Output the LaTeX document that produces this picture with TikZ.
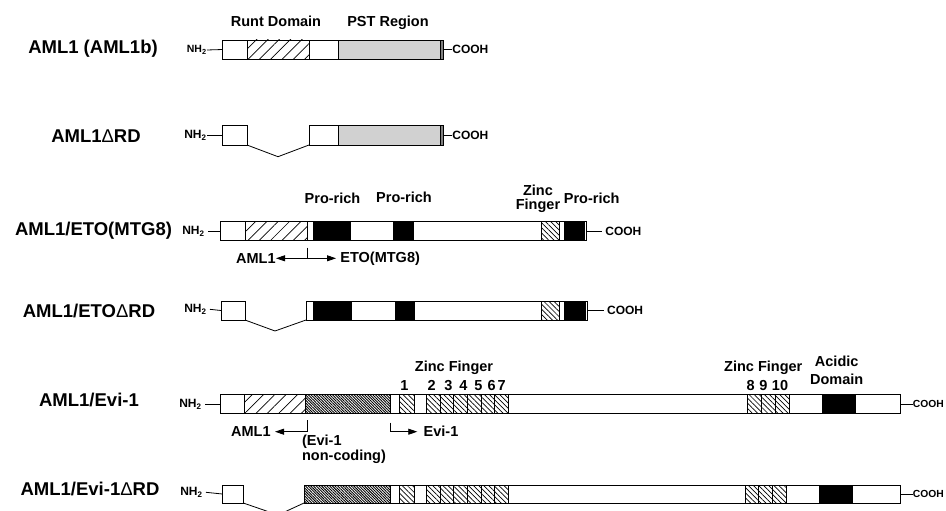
\documentclass[tikz,border=0pt]{standalone}
\usepackage{fontspec}
\setmainfont{Liberation Sans}
\usetikzlibrary{patterns.meta,arrows.meta}
\newcommand\rtop{0}
\newcommand\rbot{0}
\newcommand\bx[3]{\draw[#1] (#2,\rtop) rectangle (#3,\rbot);}
\begin{document}
\begin{tikzpicture}[x=1pt,y=-1pt,line width=0.8pt,
  rowlab/.style={font=\fontsize{18.5}{20}\selectfont\bfseries,inner sep=0},
  lab/.style={font=\fontsize{14.5}{16}\selectfont\bfseries,inner sep=0,anchor=base},
  term/.style={font=\fontsize{12}{13}\selectfont\bfseries,inner sep=0},
  termsm/.style={font=\fontsize{10.3}{11}\selectfont\bfseries,inner sep=0},
  plain/.style={draw,fill=white},
  runt/.style={draw,pattern={Lines[angle=45,distance=8pt,line width=0.7pt]}},
  zinc/.style={draw,pattern={Lines[angle=-45,distance=3.6pt,line width=0.7pt]}},
  dark/.style={draw,pattern={Lines[angle=-45,distance=1.9pt,line width=0.9pt]}},
  pst/.style={draw,fill=black!18},
  strip/.style={draw,fill=black!50},
  blk/.style={draw,fill=black},
  tip/.style={-{Triangle[length=9pt,width=6pt]}},
]
\useasboundingbox (0,0) rectangle (946,511);

% ---------- Row 1 : AML1 (AML1b)
\renewcommand\rtop{40}\renewcommand\rbot{59}
\node[rowlab] (l1) at (93,49) {AML1 (AML1b)};
\node[term,font=\fontsize{10.5}{11}\selectfont\bfseries,anchor=east] (nh1) at (207,50) {NH\textsubscript{2}};
\coordinate (w1) at (222.7,49.5);
\coordinate (e1) at (443,49.5);
\draw (nh1.east) -- (w1);
\bx{plain}{222.7}{247}
\bx{runt}{247}{309}
\bx{plain}{309}{338}
\bx{pst}{338}{440.7}
\bx{strip}{440.7}{443}
\node[term,anchor=west] (c1) at (452,49.5) {COOH};
\draw (e1) -- (c1.west);
\node[lab] (rd) at (276,26.7) {Runt Domain};
\node[lab] (pst) at (388,26.7) {PST Region};

% ---------- Row 2 : AML1 dRD
\renewcommand\rtop{125.7}\renewcommand\rbot{145}
\node[rowlab] (l2) at (96,136) {AML1{\mdseries Δ}RD};
\node[term,anchor=east] (nh2) at (207,135.3) {NH\textsubscript{2}};
\coordinate (w2) at (222.7,135.3);
\coordinate (e2) at (443,135.3);
\draw (nh2.east) -- (w2);
\bx{plain}{222.7}{247}
\draw (247,145) -- (278,156.7) -- (309,145);
\bx{plain}{309}{338}
\bx{pst}{338}{440.7}
\bx{strip}{440.7}{443}
\node[term,anchor=west] (c2) at (452,135.3) {COOH};
\draw (e2) -- (c2.west);

% ---------- Row 3 : AML1/ETO(MTG8)
\renewcommand\rtop{221.7}\renewcommand\rbot{240.3}
\node[rowlab] (l3) at (93.5,231) {AML1/ETO(MTG8)};
\node[term,anchor=east] (nh3) at (205,231) {NH\textsubscript{2}};
\coordinate (w3) at (220.7,231);
\coordinate (e3) at (586.7,231);
\draw[shorten <=3pt] (nh3.east) -- (w3);
\bx{plain}{220.7}{245}
\bx{runt}{245}{307.7}
\bx{plain}{307.7}{313.3}
\bx{blk}{313.3}{350.7}
\bx{plain}{350.7}{393.3}
\bx{blk}{393.3}{413.3}
\bx{plain}{413.3}{541.7}
\bx{zinc}{541.7}{559.3}
\bx{plain}{559.3}{564}
\bx{blk}{564}{584}
\bx{plain}{584}{586.7}
\node[term,anchor=west] (c3) at (605,231) {COOH};
\draw[shorten >=3pt] (e3) -- (c3.west);
\node[lab] (pr1) at (332.5,203.3) {Pro-rich};
\node[lab] (pr2) at (404,202) {Pro-rich};
\node[lab] (zf1) at (538,195) {Zinc};
\node[lab] (zf2) at (538,209.3) {Finger};
\node[lab] (pr3) at (591.7,203) {Pro-rich};
\coordinate (t3a) at (307.3,247.7);
\coordinate (t3b) at (307.3,258.3);
\node[lab,anchor=east] (a3) at (276,258.3) {AML1};
\node[lab,anchor=west] (eto) at (340,258.3) {ETO(MTG8)};
\draw (t3a) -- (t3b);
\draw[tip] (t3b) -- (a3.east);
\draw[tip,shorten >=4pt] (t3b) -- (eto.west);

% ---------- Row 4 : AML1/ETO dRD
\renewcommand\rtop{301}\renewcommand\rbot{320}
\node[rowlab] (l4) at (89,310.7) {AML1/ETO{\mdseries Δ}RD};
\node[term,anchor=east] (nh4) at (207,309) {NH\textsubscript{2}};
\coordinate (w4) at (221,310.5);
\coordinate (e4) at (587,310.5);
\draw[shorten <=3pt] (nh4.east) -- (w4);
\bx{plain}{221}{245}
\draw (245,320) -- (275,331) -- (306,320);
\bx{plain}{306}{313.3}
\bx{blk}{313.3}{351.7}
\bx{plain}{351.7}{395}
\bx{blk}{395}{414.3}
\bx{plain}{414.3}{541.7}
\bx{zinc}{541.7}{559}
\bx{plain}{559}{564}
\bx{blk}{564}{585}
\bx{plain}{585}{587}
\node[term,anchor=west] (c4) at (606.7,310.5) {COOH};
\draw[shorten >=3pt] (e4) -- (c4.west);

% ---------- Row 5 : AML1/Evi-1
\renewcommand\rtop{394.5}\renewcommand\rbot{413.8}
\node[rowlab] (l5) at (89,399.5) {AML1/Evi-1};
\node[term,anchor=east] (nh5) at (202,404) {NH\textsubscript{2}};
\coordinate (w5) at (220,404);
\coordinate (e5) at (900,404);
\draw[shorten <=3pt] (nh5.east) -- (w5);
\bx{plain}{220}{244.3}
\bx{runt}{244.3}{305}
\bx{dark}{305}{390.7}
\bx{plain}{390.7}{399.3}
\bx{zinc}{399.3}{414.3}
\bx{plain}{414.3}{426}
\foreach \a/\b in {426/440,440/453.5,453.5/467,467/481,481/494.7,494.7/508.3}{\bx{zinc}{\a}{\b}}
\bx{plain}{508.3}{747.3}
\foreach \a/\b in {747.3/761.7,761.7/775,775/789.3}{\bx{zinc}{\a}{\b}}
\bx{plain}{789.3}{822.7}
\bx{blk}{822.7}{855}
\bx{plain}{855}{900}
\node[termsm,anchor=west] (c5) at (912.5,404) {COOH};
\draw (e5) -- (c5.west);
\node[lab] (zfa) at (454,371.7) {Zinc Finger};
\foreach \n/\x in {1/404.3,2/431.7,3/448.3,4/463.3,5/478.3,6/491.7,7/501.7}{\node[lab] (k\n) at (\x,390.7) {\n};}
\node[lab] (zfb) at (763.3,371.7) {Zinc Finger};
\foreach \n/\x in {8/750.7,9/763.3,10/780}{\node[lab] (k\n) at (\x,390.7) {\n};}
\node[lab] (ac1) at (836.7,366.7) {Acidic};
\node[lab] (ac2) at (836.7,384) {Domain};
\coordinate (t5a) at (307.3,420);
\coordinate (t5b) at (307.3,431.7);
\node[lab,anchor=east] (a5) at (271,431.7) {AML1};
\draw[tip,shorten >=4pt] (t5a) -- (t5b) -- (a5.east);
\coordinate (t5c) at (390,422.7);
\coordinate (t5d) at (390,431.7);
\node[lab,anchor=west] (ev) at (423.3,431.7) {Evi-1};
\draw[tip,shorten >=6pt] (t5c) -- (t5d) -- (ev.west);
\node[lab,anchor=west] (nc1) at (301.7,441.7) {(Evi-1};
\node[lab,anchor=west] (nc2) at (301.7,456.7) {non-coding)};

% ---------- Row 6 : AML1/Evi-1 dRD
\renewcommand\rtop{485}\renewcommand\rbot{503}
\node[rowlab] (l6) at (90,489) {AML1/Evi-1{\mdseries Δ}RD};
\node[term,anchor=east] (nh6) at (203,492) {NH\textsubscript{2}};
\coordinate (w6) at (222.3,494);
\coordinate (e6) at (900,494);
\draw[shorten <=3pt] (nh6.east) -- (w6);
\bx{plain}{222.3}{243.3}
\draw (243.3,503) -- (278,515) -- (304,503);
\bx{dark}{304}{390.7}
\bx{plain}{390.7}{399.3}
\bx{zinc}{399.3}{414.3}
\bx{plain}{414.3}{426}
\foreach \a/\b in {426/440,440/453.5,453.5/467,467/481,481/494.7,494.7/508.3}{\bx{zinc}{\a}{\b}}
\bx{plain}{508.3}{745.7}
\foreach \a/\b in {745.7/758.3,758.3/772.7,772.7/786}{\bx{zinc}{\a}{\b}}
\bx{plain}{786}{819.3}
\bx{blk}{819.3}{852.7}
\bx{plain}{852.7}{900}
\node[termsm,anchor=west] (c6) at (912.5,494) {COOH};
\draw (e6) -- (c6.west);
\end{tikzpicture}
\end{document}
